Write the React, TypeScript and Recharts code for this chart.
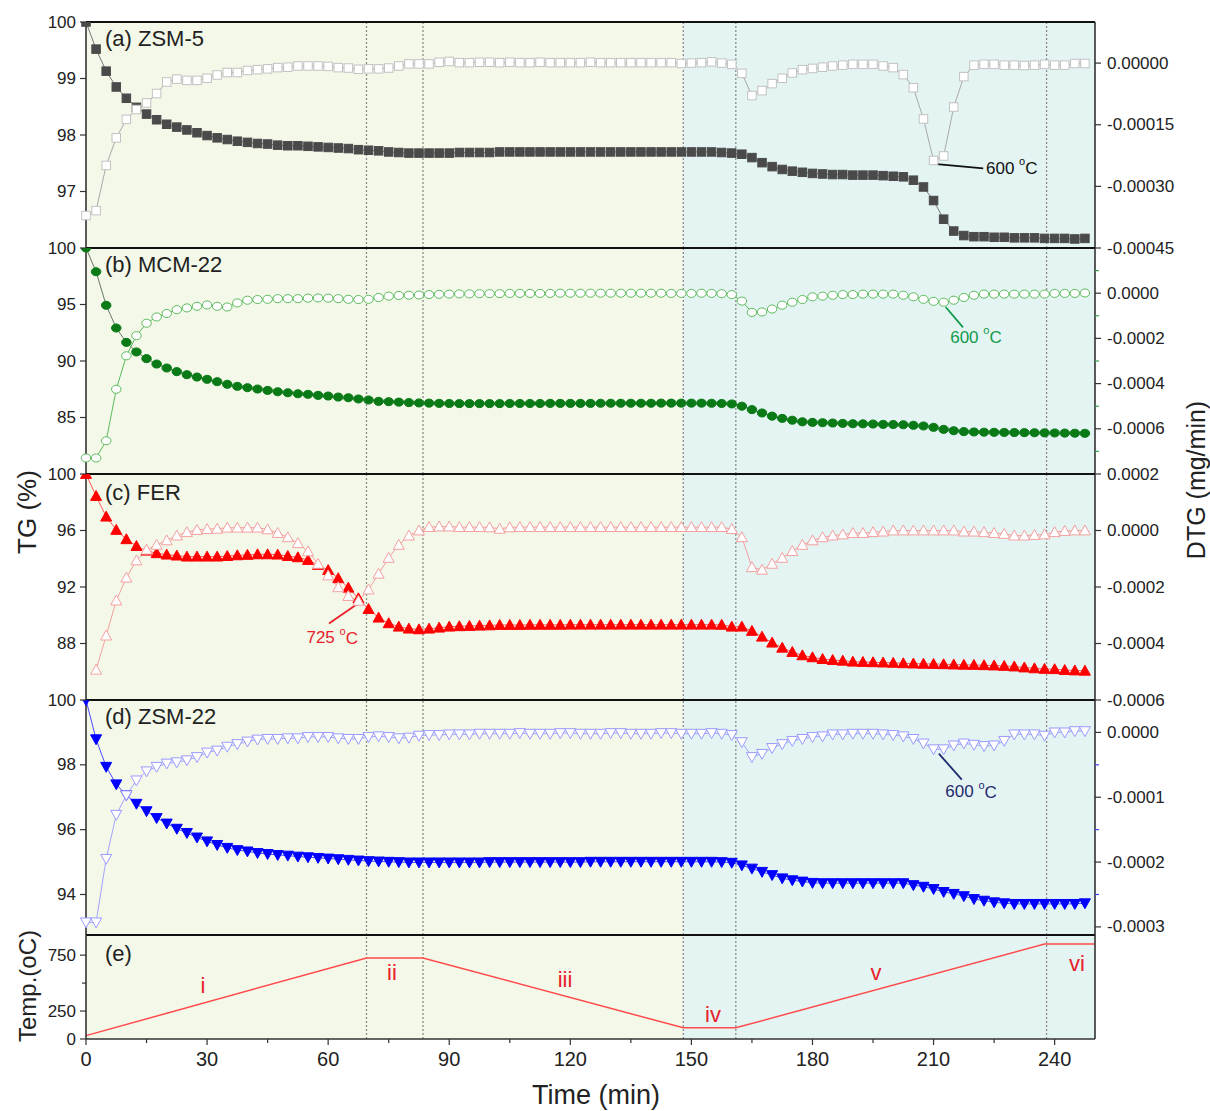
import React from 'react'
import {
  ComposedChart,
  Line,
  XAxis,
  YAxis,
  ReferenceArea,
  ReferenceLine,
  ReferenceDot,
} from 'recharts'

const FONT = '"Liberation Sans", Arial, Helvetica, sans-serif'

// sampling times (min)
const TIME = [
  0, 2.5, 5, 7.5, 10, 12.5, 15, 17.5, 20, 22.5,
  25, 27.5, 30, 32.5, 35, 37.5, 40, 42.5, 45, 47.5,
  50, 52.5, 55, 57.5, 60, 62.5, 65, 67.5, 70, 72.5,
  75, 77.5, 80, 82.5, 85, 87.5, 90, 92.5, 95, 97.5,
  100, 102.5, 105, 107.5, 110, 112.5, 115, 117.5, 120, 122.5,
  125, 127.5, 130, 132.5, 135, 137.5, 140, 142.5, 145, 147.5,
  150, 152.5, 155, 157.5, 160, 162.5, 165, 167.5, 170, 172.5,
  175, 177.5, 180, 182.5, 185, 187.5, 190, 192.5, 195, 197.5,
  200, 202.5, 205, 207.5, 210, 212.5, 215, 217.5, 220, 222.5,
  225, 227.5, 230, 232.5, 235, 237.5, 240, 242.5, 245, 247.5,
]

// (a) ZSM-5
const ZSM5_TG = [
  100.0, 99.52, 99.13, 98.85, 98.65, 98.49, 98.37, 98.27, 98.19, 98.14,
  98.09, 98.04, 97.99, 97.95, 97.92, 97.89, 97.87, 97.85, 97.84, 97.82,
  97.81, 97.81, 97.8, 97.79, 97.78, 97.77, 97.76, 97.74, 97.73, 97.72,
  97.7, 97.69, 97.68, 97.68, 97.68, 97.68, 97.68, 97.69, 97.69, 97.69,
  97.69, 97.7, 97.7, 97.7, 97.7, 97.7, 97.7, 97.7, 97.7, 97.7,
  97.7, 97.7, 97.7, 97.7, 97.7, 97.7, 97.7, 97.7, 97.7, 97.7,
  97.7, 97.7, 97.7, 97.69, 97.68, 97.66, 97.6, 97.51, 97.44, 97.39,
  97.36, 97.34, 97.32, 97.31, 97.3, 97.3, 97.29, 97.29, 97.29, 97.28,
  97.27, 97.26, 97.2, 97.08, 96.84, 96.51, 96.3, 96.22, 96.2, 96.2,
  96.19, 96.19, 96.18, 96.18, 96.18, 96.17, 96.17, 96.17, 96.16, 96.17,
]
const ZSM5_DTG = [
  -0.000371, -0.000359, -0.000249, -0.000182, -0.000137, -0.000113, -0.000097, -0.000074, -0.000046, -0.000039,
  -0.000042, -0.000042, -0.000037, -0.000029, -0.000023, -0.000023, -0.000018, -0.000016, -0.000014, -0.000011,
  -0.00001, -0.000007, -0.000007, -0.000007, -0.000008, -0.000011, -0.000012, -0.000015, -0.000014, -0.000014,
  -0.000012, -0.000007, -0.000002, -0.000002, -0.000002, 0.000002, 0.000004, 0.000001, 0.000001, 0.000002,
  0.000002, 0.000001, 0.000002, 0.000001, 0.000001, 0.000002, 0.000001, 0.000001, 0.000001, 0.000001,
  0.000002, 0.000001, 0.000001, 0.000001, 0.000001, 0.000001, 0.000001, 0.000001, 0.000001, -0.000001,
  0.0, 0.000001, 0.000003, 0.0, -0.000003, -0.000025, -0.000079, -0.000067, -0.00005, -0.000037,
  -0.000024, -0.000016, -0.000013, -0.00001, -0.000007, -0.000005, -0.000003, -0.000003, -0.000003, -0.000007,
  -0.000011, -0.000028, -0.00006, -0.000136, -0.000237, -0.000226, -0.000107, -0.000033, -0.000005, -0.000003,
  -0.000003, -0.000005, -0.000005, -0.000006, -0.000005, -0.000003, -0.000005, -0.000005, -0.000001, -0.000001,
]

// (b) MCM-22
const MCM22_TG = [
  100.0, 97.9, 94.93, 92.92, 91.65, 90.8, 90.21, 89.73, 89.38, 89.06,
  88.79, 88.58, 88.38, 88.17, 87.94, 87.76, 87.64, 87.52, 87.4, 87.28,
  87.19, 87.1, 87.05, 86.96, 86.9, 86.81, 86.75, 86.64, 86.55, 86.43,
  86.4, 86.36, 86.32, 86.29, 86.27, 86.25, 86.24, 86.23, 86.23, 86.23,
  86.23, 86.23, 86.24, 86.24, 86.24, 86.24, 86.25, 86.25, 86.25, 86.25,
  86.25, 86.26, 86.26, 86.26, 86.26, 86.26, 86.26, 86.27, 86.27, 86.27,
  86.27, 86.27, 86.26, 86.24, 86.2, 86.0, 85.7, 85.4, 85.12, 84.92,
  84.76, 84.62, 84.57, 84.54, 84.51, 84.48, 84.45, 84.44, 84.42, 84.39,
  84.38, 84.36, 84.31, 84.25, 84.13, 83.95, 83.83, 83.75, 83.72, 83.7,
  83.69, 83.68, 83.67, 83.66, 83.65, 83.64, 83.63, 83.62, 83.61, 83.6,
]
const MCM22_DTG = [
  -0.000729, -0.000729, -0.000653, -0.000425, -0.000277, -0.000188, -0.000133, -0.000105, -0.00009, -0.000073,
  -0.000065, -0.000058, -0.000052, -0.000058, -0.000061, -0.000043, -0.000031, -0.000028, -0.000027, -0.000024,
  -0.000024, -0.000024, -0.000022, -0.000021, -0.000022, -0.000024, -0.000027, -0.000028, -0.000027, -0.000019,
  -0.000013, -0.00001, -0.000009, -0.000008, -0.000006, -0.000005, -0.000004, -0.000003, -0.000003, -0.000002,
  -0.000002, -0.000002, -0.000001, -0.000001, -0.000001, -0.000001, -0.000001, 0.0, 0.0, 0.0,
  0.0, 0.0, 0.0, 0.0, 0.0, 0.0, 0.0, 0.0, -0.000001, -0.000001,
  -0.000001, 0.0, -0.000001, -0.000002, -0.000006, -0.000035, -0.000085, -0.000083, -0.00007, -0.000053,
  -0.00004, -0.000028, -0.000016, -0.000013, -0.000009, -0.000006, -0.000006, -0.000004, -0.000004, -0.000004,
  -0.000004, -0.000009, -0.000016, -0.000027, -0.000036, -0.00004, -0.000031, -0.000019, -0.000009, -0.000004,
  -0.000004, -0.000004, -0.000004, -0.000004, -0.000004, -0.000004, -0.000001, -0.000001, -0.000001, 0.000001,
]

// (c) FER
const FER_TG = [
  100.0, 98.44, 96.98, 96.04, 95.38, 94.9, 94.57, 94.39, 94.29, 94.22,
  94.15, 94.15, 94.15, 94.15, 94.19, 94.24, 94.27, 94.31, 94.31, 94.29,
  94.19, 94.1, 93.91, 93.56, 93.2, 92.62, 91.95, 91.2, 90.44, 89.83,
  89.43, 89.19, 89.05, 89.0, 89.05, 89.12, 89.19, 89.22, 89.24, 89.26,
  89.28, 89.31, 89.31, 89.31, 89.32, 89.32, 89.32, 89.32, 89.33, 89.33,
  89.33, 89.33, 89.33, 89.33, 89.33, 89.33, 89.33, 89.33, 89.33, 89.33,
  89.33, 89.33, 89.33, 89.32, 89.19, 89.19, 88.89, 88.48, 88.06, 87.7,
  87.4, 87.16, 87.02, 86.9, 86.83, 86.78, 86.71, 86.69, 86.67, 86.65,
  86.63, 86.6, 86.58, 86.56, 86.55, 86.53, 86.51, 86.49, 86.48, 86.46,
  86.44, 86.41, 86.37, 86.3, 86.24, 86.2, 86.18, 86.12, 86.09, 86.07,
]
const FER_DTG = [
  null, -0.000493, -0.000372, -0.000248, -0.000167, -0.000106, -0.000068, -0.000051, -0.000035, -0.000018,
  -0.000006, 0.000002, 0.000005, 0.000006, 0.00001, 0.00001, 0.00001, 0.00001, 0.000004, -0.000009,
  -0.000024, -0.000045, -0.000074, -0.000118, -0.000159, -0.000201, -0.000232, -0.000249, -0.000209, -0.000153,
  -0.000097, -0.000051, -0.000018, 0.0, 0.000012, 0.000014, 0.000014, 0.000012, 0.000012, 0.000012,
  0.000011, 0.000006, 0.000011, 0.000012, 0.000012, 0.000012, 0.000012, 0.000012, 0.000012, 0.000012,
  0.000012, 0.000012, 0.000012, 0.000012, 0.000012, 0.000012, 0.000012, 0.000012, 0.000012, 0.000012,
  0.000012, 0.000012, 0.000012, 0.000012, 0.000005, -0.000024, -0.00013, -0.000139, -0.000118, -0.000097,
  -0.000073, -0.000051, -0.000035, -0.000024, -0.000018, -0.000014, -0.000009, -0.000009, -0.000006, -0.000004,
  0.0, 0.0, 0.0, 0.0, 0.0, 0.0, 0.0, -0.000004, -0.000004, -0.000006,
  -0.000009, -0.000012, -0.000018, -0.000018, -0.000016, -0.000014, -0.000006, -0.000002, 0.0, 0.0,
]

// (d) ZSM-22
const ZSM22_TG = [
  100.0, 98.79, 97.94, 97.4, 97.06, 96.8, 96.57, 96.36, 96.19, 96.03,
  95.9, 95.76, 95.64, 95.53, 95.44, 95.37, 95.33, 95.28, 95.25, 95.22,
  95.2, 95.17, 95.15, 95.13, 95.11, 95.09, 95.07, 95.05, 95.03, 95.02,
  95.01, 95.0, 94.99, 94.99, 94.99, 94.99, 94.99, 94.99, 94.99, 94.99,
  95.0, 95.0, 95.0, 95.0, 95.0, 95.0, 95.0, 95.0, 95.0, 95.0,
  95.01, 95.01, 95.01, 95.01, 95.01, 95.01, 95.01, 95.01, 95.01, 95.01,
  95.01, 95.01, 95.01, 95.0, 94.98, 94.9, 94.8, 94.7, 94.6, 94.5,
  94.44, 94.4, 94.36, 94.35, 94.35, 94.35, 94.35, 94.35, 94.35, 94.35,
  94.35, 94.35, 94.29, 94.24, 94.17, 94.08, 94.02, 93.95, 93.86, 93.81,
  93.76, 93.73, 93.71, 93.71, 93.71, 93.71, 93.71, 93.71, 93.71, 93.73,
]
const ZSM22_DTG = [
  -0.000293, -0.000293, -0.000195, -0.000127, -0.000097, -0.000074, -0.00006, -0.000053, -0.000048, -0.000046,
  -0.000043, -0.000038, -0.000031, -0.000028, -0.000022, -0.000018, -0.000014, -0.000011, -0.00001, -0.00001,
  -0.000009, -0.000009, -0.000007, -0.000007, -0.000007, -0.000009, -0.00001, -0.00001, -0.000007, -0.000006,
  -0.000007, -0.000009, -0.000008, -0.000005, -0.000004, -0.000004, -0.000003, -0.000003, -0.000003, -0.000002,
  -0.000002, -0.000002, -0.000002, -0.000001, -0.000002, -0.000002, -0.000002, -0.000001, -0.000001, -0.000002,
  -0.000002, -0.000002, -0.000001, -0.000001, -0.000002, -0.000002, -0.000002, -0.000001, -0.000001, -0.000002,
  -0.000002, -0.000002, -0.000001, -0.000002, -0.000004, -0.000015, -0.000038, -0.000033, -0.000024, -0.000018,
  -0.000013, -0.00001, -0.000007, -0.000006, -0.000003, -0.000003, -0.000002, -0.000002, -0.000002, -0.000003,
  -0.000004, -0.000006, -0.00001, -0.000017, -0.000026, -0.000026, -0.00002, -0.000017, -0.000019, -0.000021,
  -0.00002, -0.000013, -0.000003, -0.000003, -0.000003, -0.000005, 0.0, 0.0, 0.000002, 0.000002,
]

// (e) temperature programme
const TEMP_TIME = [0, 69.5, 83.5, 148, 161, 237.5, 250]
const TEMP_VALUES = [30, 725, 725, 100, 100, 850, 850]

const STAGE_BOUNDS = [69.5, 83.5, 148, 161, 238]
const X_TICKS = [0, 15, 30, 45, 60, 75, 90, 105, 120, 135, 150, 165, 180, 195, 210, 225, 240]
const X_LABELS = [0, 30, 60, 90, 120, 150, 180, 210, 240]

const W = 1210
const LEFT_W = 86
const RIGHT_W = 115
const TICK = 6
const GAP = 4

function Marker({ cx, cy, shape, size, fill, stroke }: any) {
  if (cx == null || cy == null || Number.isNaN(cx) || Number.isNaN(cy)) return <g />
  const h = size / 2
  if (shape === 'square') {
    return <rect x={cx - h} y={cy - h} width={size} height={size} fill={fill} stroke={stroke} strokeWidth={1} />
  }
  if (shape === 'circle') {
    return <ellipse cx={cx} cy={cy} rx={h} ry={h * 0.85} fill={fill} stroke={stroke} strokeWidth={1} />
  }
  const d = shape === 'up' ? 1 : -1
  const pts = `${cx},${cy - d * h} ${cx + h},${cy + d * h * 0.8} ${cx - h},${cy + d * h * 0.8}`
  return <polygon points={pts} fill={fill} stroke={stroke} strokeWidth={1} />
}

const dots = (shape: string, size: number, fill: string, stroke: string) => (p: any) => (
  <Marker key={`m-${p.index}`} cx={p.cx} cy={p.cy} shape={shape} size={size} fill={fill} stroke={stroke} />
)

function AxisTick(props: any) {
  const { x, y, payload, side, labels, minorColor, fmt, fontSize = 17 } = props
  const v = payload.value
  const major = labels.some((l: number) => Math.abs(l - v) < 1e-9)
  const len = major ? TICK : 4
  const color = major ? '#333' : minorColor || '#333'
  const txt = { fontFamily: FONT, fontSize, fill: '#222' }
  if (side === 'left') {
    const ax = x + TICK + GAP
    return (
      <g>
        <line x1={ax} x2={ax - len} y1={y} y2={y} stroke={color} strokeWidth={1.2} />
        {major && (
          <text x={ax - 10} y={y} textAnchor="end" dominantBaseline="central" {...txt}>
            {fmt(v)}
          </text>
        )}
      </g>
    )
  }
  if (side === 'right') {
    const ax = x - TICK - GAP
    return (
      <g>
        <line x1={ax} x2={ax + len} y1={y} y2={y} stroke={color} strokeWidth={1.2} />
        {major && (
          <text x={ax + 12} y={y} textAnchor="start" dominantBaseline="central" {...txt}>
            {fmt(v)}
          </text>
        )}
      </g>
    )
  }
  const ay = y - TICK - GAP
  return (
    <g>
      <line x1={x} x2={x} y1={ay} y2={ay + len} stroke={color} strokeWidth={1.2} />
      {major && (
        <text x={x} y={ay + 20} textAnchor="middle" dominantBaseline="central" {...txt}>
          {fmt(v)}
        </text>
      )}
    </g>
  )
}

function DegLabel(props: any) {
  const { viewBox, text, color, anchor = 'middle' } = props
  if (!viewBox) return null
  return (
    <text
      x={viewBox.x}
      y={viewBox.y}
      textAnchor={anchor}
      dominantBaseline="central"
      fill={color}
      fontFamily={FONT}
      fontSize={17}
    >
      {text + ' '}
      <tspan fontSize={11} dy={-7}>o</tspan>
      <tspan dy={7}>C</tspan>
    </text>
  )
}

const fmtDtg = (digits: number) => (v: number) => (Math.abs(v) < 1e-12 ? 0 : v).toFixed(digits)

function Background({ axis }: { axis: string }) {
  return null
}

function Panel({ top, height, cfg, extra }: any) {
  const data = TIME.map((t, i) => ({ t, tg: cfg.tg[i], dtg: cfg.dtg[i] }))
  return (
    <div style={{ position: 'absolute', left: 0, top: top - 10 }}>
      <ComposedChart width={W} height={height + 20} data={data} margin={{ top: 10, right: 0, bottom: 10, left: 0 }}>
        <XAxis dataKey="t" type="number" domain={[0, 250]} hide />
        <YAxis
          yAxisId="tg"
          orientation="left"
          width={LEFT_W}
          type="number"
          domain={cfg.tgDomain}
          allowDataOverflow
          ticks={cfg.tgTicks}
          interval={0}
          tickSize={TICK}
          tickMargin={GAP}
          tickLine={false}
          axisLine={{ stroke: '#333', strokeWidth: 1.6 }}
          tick={<AxisTick side="left" labels={cfg.tgTicks} fmt={(v: number) => String(v)} />}
        />
        <YAxis
          yAxisId="dtg"
          orientation="right"
          width={RIGHT_W}
          type="number"
          domain={cfg.dtgDomain}
          allowDataOverflow
          ticks={cfg.dtgTicks}
          interval={0}
          tickSize={TICK}
          tickMargin={GAP}
          tickLine={false}
          axisLine={{ stroke: '#333', strokeWidth: 1.6 }}
          tick={
            <AxisTick side="right" labels={cfg.dtgLabels} minorColor={cfg.minorColor} fmt={fmtDtg(cfg.digits)} />
          }
        />
        <ReferenceArea yAxisId="tg" x1={0} x2={148} fill="#F3F8E8" fillOpacity={1} stroke="none" />
        <ReferenceArea yAxisId="tg" x1={148} x2={250} fill="#E3F4F3" fillOpacity={1} stroke="none" />
        {STAGE_BOUNDS.map((b) => (
          <ReferenceLine key={`v-${b}`} yAxisId="tg" x={b} stroke="#8c8c8c" strokeDasharray="2 2" strokeWidth={1.3} />
        ))}
        <ReferenceLine yAxisId="tg" y={cfg.tgDomain[1]} stroke="#111" strokeWidth={2} />
        <Line
          yAxisId="tg"
          dataKey="tg"
          type="linear"
          stroke={cfg.tgLine}
          strokeWidth={1}
          dot={dots(cfg.shape, cfg.size, cfg.color, cfg.color)}
          activeDot={false}
          isAnimationActive={false}
        />
        <Line
          yAxisId="dtg"
          dataKey="dtg"
          type="linear"
          stroke={cfg.dtgLine}
          strokeWidth={1}
          dot={dots(cfg.openShape, cfg.size, '#ffffff', cfg.openColor)}
          activeDot={false}
          isAnimationActive={false}
        />
        {extra}
      </ComposedChart>
    </div>
  )
}

function annotation(key: string, from: number[], to: number[], at: number[], color: string, anchor: string) {
  return [
    <ReferenceLine
      key={`${key}-l`}
      yAxisId="dtg"
      segment={[
        { x: from[0], y: from[1] },
        { x: to[0], y: to[1] },
      ]}
      stroke={color}
      strokeWidth={1.8}
    />,
    <ReferenceDot
      key={`${key}-t`}
      yAxisId="dtg"
      x={at[0]}
      y={at[1]}
      r={0}
      fill="none"
      stroke="none"
      label={<DegLabel text={key} color={color} anchor={anchor} />}
    />,
  ]
}

const PANELS = [
  {
    top: 22,
    height: 226,
    cfg: {
      tg: ZSM5_TG,
      dtg: ZSM5_DTG,
      tgDomain: [96, 100],
      tgTicks: [97, 98, 99, 100],
      dtgDomain: [-0.00045, 0.0001],
      dtgTicks: [0, -0.00015, -0.0003, -0.00045],
      dtgLabels: [0, -0.00015, -0.0003, -0.00045],
      digits: 5,
      shape: 'square',
      openShape: 'square',
      size: 8.5,
      color: '#4a4a4a',
      openColor: '#c2c2c2',
      tgLine: '#777777',
      dtgLine: '#a8a8a8',
    },
    extra: annotation('600', [210.8, -0.000246], [222.3, -0.000256], [223, -0.000256], '#111111', 'start'),
  },
  {
    top: 248,
    height: 226,
    cfg: {
      tg: MCM22_TG,
      dtg: MCM22_DTG,
      tgDomain: [80, 100],
      tgTicks: [85, 90, 95, 100],
      dtgDomain: [-0.0008, 0.0002],
      dtgTicks: [0.0001, 0, -0.0001, -0.0002, -0.0003, -0.0004, -0.0005, -0.0006, -0.0007],
      dtgLabels: [0, -0.0002, -0.0004, -0.0006],
      minorColor: '#2fa84a',
      digits: 4,
      shape: 'circle',
      openShape: 'circle',
      size: 9.5,
      color: '#0a7a16',
      openColor: '#5cbb5c',
      tgLine: '#667766',
      dtgLine: '#5cbb5c',
    },
    extra: annotation('600', [213, -0.000061], [217.3, -0.000151], [220.5, -0.000196], '#13994a', 'middle'),
  },
  {
    top: 474,
    height: 226,
    cfg: {
      tg: FER_TG,
      dtg: FER_DTG,
      tgDomain: [84, 100],
      tgTicks: [88, 92, 96, 100],
      dtgDomain: [-0.0006, 0.0002],
      dtgTicks: [0.0002, 0, -0.0002, -0.0004, -0.0006],
      dtgLabels: [0.0002, 0, -0.0002, -0.0004, -0.0006],
      digits: 4,
      shape: 'up',
      openShape: 'up',
      size: 11,
      color: '#ff0000',
      openColor: '#f3a0a0',
      tgLine: '#ff5a5a',
      dtgLine: '#f3a0a0',
    },
    extra: annotation('725', [67.4, -0.000258], [60.2, -0.000329], [61, -0.000379], '#e8202a', 'middle'),
  },
  {
    top: 700,
    height: 235,
    cfg: {
      tg: ZSM22_TG,
      dtg: ZSM22_DTG,
      tgDomain: [92.75, 100],
      tgTicks: [94, 96, 98, 100],
      dtgDomain: [-0.0003125, 0.00005],
      dtgTicks: [0, -0.00005, -0.0001, -0.00015, -0.0002, -0.00025, -0.0003],
      dtgLabels: [0, -0.0001, -0.0002, -0.0003],
      minorColor: '#3b3bff',
      digits: 4,
      shape: 'down',
      openShape: 'down',
      size: 11,
      color: '#0000ff',
      openColor: '#9a9aff',
      tgLine: '#4a4aff',
      dtgLine: '#a4a4ff',
    },
    extra: annotation('600', [211.3, -0.0000326], [217, -0.0000729], [219.3, -0.0000915], '#1f2a6e', 'middle'),
  },
]

function TempPanel() {
  const data = TEMP_TIME.map((t, i) => ({ t, temp: TEMP_VALUES[i] }))
  const top = 935
  const height = 104
  return (
    <div style={{ position: 'absolute', left: 0, top: top - 10 }}>
      <ComposedChart width={W} height={height + 10 + 60} data={data} margin={{ top: 10, right: 0, bottom: 0, left: 0 }}>
        <XAxis
          dataKey="t"
          type="number"
          domain={[0, 250]}
          ticks={X_TICKS}
          interval={0}
          height={60}
          tickSize={TICK}
          tickMargin={GAP}
          tickLine={false}
          axisLine={{ stroke: '#333', strokeWidth: 1.6 }}
          tick={<AxisTick side="bottom" labels={X_LABELS} fontSize={20} fmt={(v: number) => String(v)} />}
        />
        <YAxis
          yAxisId="temp"
          orientation="left"
          width={LEFT_W}
          type="number"
          domain={[0, 930]}
          allowDataOverflow
          ticks={[0, 250, 500, 750]}
          interval={0}
          tickSize={TICK}
          tickMargin={GAP}
          tickLine={false}
          axisLine={{ stroke: '#333', strokeWidth: 1.6 }}
          tick={<AxisTick side="left" labels={[0, 250, 750]} fmt={(v: number) => String(v)} />}
        />
        <YAxis
          yAxisId="edge"
          orientation="right"
          width={RIGHT_W}
          type="number"
          domain={[0, 1]}
          tick={false}
          tickLine={false}
          axisLine={{ stroke: '#333', strokeWidth: 1.6 }}
        />
        <ReferenceArea yAxisId="temp" x1={0} x2={148} fill="#F3F8E8" fillOpacity={1} stroke="none" />
        <ReferenceArea yAxisId="temp" x1={148} x2={250} fill="#E3F4F3" fillOpacity={1} stroke="none" />
        {STAGE_BOUNDS.map((b) => (
          <ReferenceLine key={`v-${b}`} yAxisId="temp" x={b} stroke="#8c8c8c" strokeDasharray="2 2" strokeWidth={1.3} />
        ))}
        <ReferenceLine yAxisId="temp" y={930} stroke="#111" strokeWidth={2} />
        <Line
          yAxisId="temp"
          dataKey="temp"
          type="linear"
          stroke="#ff4a4a"
          strokeWidth={1.5}
          dot={false}
          activeDot={false}
          isAnimationActive={false}
        />
      </ComposedChart>
    </div>
  )
}

const PANEL_TITLES = [
  { text: '(a) ZSM-5', y: 46 },
  { text: '(b) MCM-22', y: 272 },
  { text: '(c) FER', y: 500 },
  { text: '(d) ZSM-22', y: 724 },
  { text: '(e)', y: 961 },
]

const STAGES = [
  { text: 'i', x: 203, y: 985 },
  { text: 'ii', x: 392, y: 972 },
  { text: 'iii', x: 565, y: 979 },
  { text: 'iv', x: 713, y: 1014 },
  { text: 'v', x: 876, y: 972 },
  { text: 'vi', x: 1077, y: 963 },
]

export default function App() {
  return (
    <div style={{ position: 'absolute', left: 0, top: 0, width: W, height: 1111, background: '#fff', fontFamily: FONT }}>
      {PANELS.map((p, i) => (
        <Panel key={i} top={p.top} height={p.height} cfg={p.cfg} extra={p.extra} />
      ))}
      <TempPanel />
      <svg
        width={W}
        height={1111}
        style={{ position: 'absolute', left: 0, top: 0, pointerEvents: 'none' }}
        fontFamily={FONT}
      >
        {PANEL_TITLES.map((p) => (
          <text key={p.text} x={105} y={p.y} fontSize={22} fill="#222">
            {p.text}
          </text>
        ))}
        {STAGES.map((s) => (
          <text key={s.text} x={s.x} y={s.y} fontSize={22} fill="#e8202a" textAnchor="middle" dominantBaseline="central">
            {s.text}
          </text>
        ))}
        <text transform="translate(27,512) rotate(-90)" textAnchor="middle" dominantBaseline="central" fontSize={26} fill="#222">
          TG (%)
        </text>
        <text transform="translate(27,986) rotate(-90)" textAnchor="middle" dominantBaseline="central" fontSize={24} fill="#222">
          Temp.(oC)
        </text>
        <text transform="translate(1196,480) rotate(-90)" textAnchor="middle" dominantBaseline="central" fontSize={25} fill="#222">
          DTG (mg/min)
        </text>
        <text x={596} y={1095} textAnchor="middle" dominantBaseline="central" fontSize={27} fill="#222">
          Time (min)
        </text>
      </svg>
    </div>
  )
}
